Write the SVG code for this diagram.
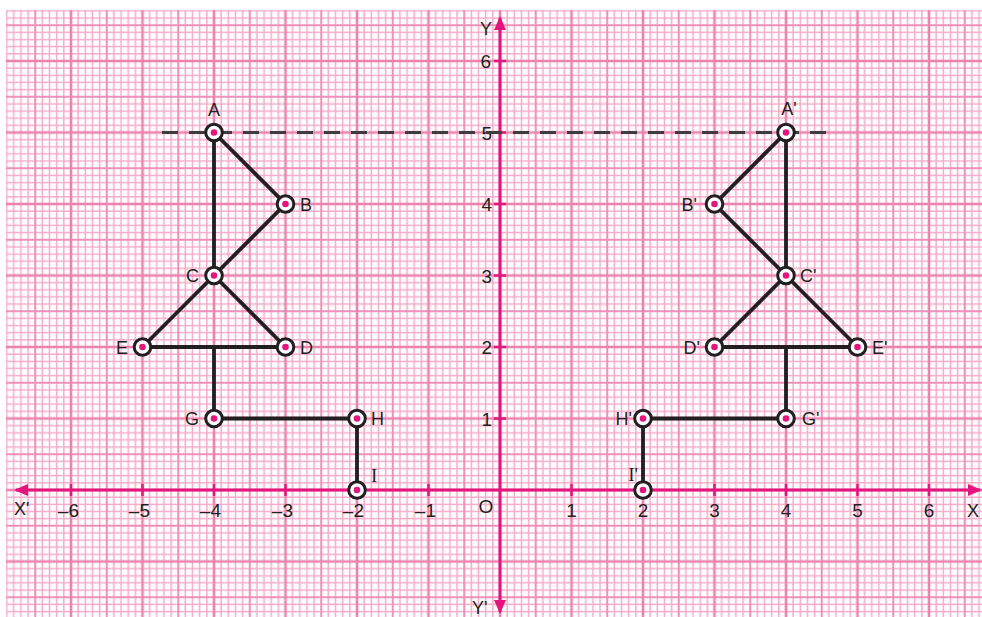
<svg xmlns="http://www.w3.org/2000/svg" width="982" height="617" viewBox="0 0 982 617">
<style>
.lbl{font-family:"Liberation Sans",Arial,sans-serif;font-size:18px;fill:#231f20}
.ser{font-family:"Liberation Serif","Times New Roman",serif;font-size:19px;fill:#231f20}
.num{font-family:"Liberation Sans",Arial,sans-serif;font-size:19px;fill:#231f20}
.seg{stroke:#231f20;stroke-width:3.8;fill:none;stroke-linecap:round}
.pt{fill:#fff;stroke:#231f20;stroke-width:3}
.dot{fill:#e4157c}
.axis{stroke:#e4157c;stroke-width:3;fill:none}
.tick{stroke:#e4157c;stroke-width:2.5}
</style>
<defs>
<pattern id="grid" patternUnits="userSpaceOnUse" x="-0.5" y="-10.5" width="71.5" height="71.5">
<path d="M7.15,0V71.5M14.3,0V71.5M21.45,0V71.5M28.6,0V71.5M42.9,0V71.5M50.05,0V71.5M57.2,0V71.5M64.35,0V71.5M0,7.15H71.5M0,14.3H71.5M0,21.45H71.5M0,28.6H71.5M0,42.9H71.5M0,50.05H71.5M0,57.2H71.5M0,64.35H71.5" stroke="#f5abc9" stroke-width="1.5" fill="none"/>
<path d="M35.75,0V71.5M0,35.75H71.5" stroke="#f08fb7" stroke-width="2" fill="none"/>
<rect x="0" y="0" width="1.3" height="71.5" fill="#ec84ae"/>
<rect x="70.2" y="0" width="1.3" height="71.5" fill="#ec84ae"/>
<rect x="0" y="0" width="71.5" height="1.3" fill="#ec84ae"/>
<rect x="0" y="70.2" width="71.5" height="1.3" fill="#ec84ae"/>
</pattern>
<marker id="arr" viewBox="0 0 14 12" refX="12" refY="6" markerWidth="14" markerHeight="12" markerUnits="userSpaceOnUse" orient="auto-start-reverse">
<path d="M0,0L14,6L0,12z" fill="#e4157c"/>
</marker>
</defs>
<rect width="982" height="617" fill="#fff"/>
<rect x="6" y="10" width="976" height="607" fill="url(#grid)"/>

<g id="axes">
<line class="axis" x1="16" y1="490" x2="980" y2="490" marker-start="url(#arr)" marker-end="url(#arr)"/>
<line class="axis" x1="500" y1="18" x2="500" y2="612" marker-start="url(#arr)" marker-end="url(#arr)"/>
<path class="tick" d="M71,484V496M142.5,484V496M214,484V496M285.5,484V496M357,484V496M428.5,484V496M571.5,484V496M643,484V496M714.5,484V496M786,484V496M857.5,484V496M929,484V496M494,418.5H506M494,347H506M494,275.5H506M494,204H506M494,132.5H506M494,61H506"/>
<text class="lbl" x="14" y="515">X'</text>
<text class="lbl" x="967" y="517">X</text>
<text class="lbl" x="480" y="35">Y</text>
<text class="lbl" x="472" y="614">Y'</text>
<text class="num" x="486" y="513" text-anchor="middle">O</text>
<g text-anchor="end">
<text class="num" x="79" y="517">–6</text>
<text class="num" x="150" y="517">–5</text>
<text class="num" x="221" y="517">–4</text>
<text class="num" x="293" y="517">–3</text>
<text class="num" x="364" y="517">–2</text>
<text class="num" x="436" y="517">–1</text>
</g>
<g text-anchor="middle">
<text class="num" x="571.5" y="517">1</text>
<text class="num" x="643" y="517">2</text>
<text class="num" x="714.5" y="517">3</text>
<text class="num" x="786" y="517">4</text>
<text class="num" x="857.5" y="517">5</text>
<text class="num" x="929" y="517">6</text>
</g>
<g text-anchor="end">
<text class="num" x="492" y="426">1</text>
<text class="num" x="492" y="354">2</text>
<text class="num" x="492" y="283">3</text>
<text class="num" x="492" y="211">4</text>
<text class="num" x="492" y="140">5</text>
<text class="num" x="491" y="68">6</text>
</g>
</g>

<g id="connectors">
<line x1="162" y1="132.5" x2="835" y2="132.5" stroke="#3d3d3d" stroke-width="3" stroke-dasharray="16 11"/>
<path class="seg" d="M214,132.5L285.5,204L214,275.5M214,132.5V275.5L142.5,347H285.5L214,275.5M214,347V418.5H357V490"/>
<path class="seg" d="M786,132.5L714.5,204L786,275.5M786,132.5V275.5L857.5,347H714.5L786,275.5M786,347V418.5H643V490"/>
</g>

<g id="A"><circle class="pt" cx="214" cy="132.5" r="8.3"/><circle class="dot" cx="214" cy="132.5" r="3.3"/><text class="lbl" x="214" y="116" text-anchor="middle">A</text></g>
<g id="B"><circle class="pt" cx="285.5" cy="204" r="8.3"/><circle class="dot" cx="285.5" cy="204" r="3.3"/><text class="lbl" x="300" y="210.5">B</text></g>
<g id="C"><circle class="pt" cx="214" cy="275.5" r="8.3"/><circle class="dot" cx="214" cy="275.5" r="3.3"/><text class="lbl" x="199" y="282" text-anchor="end">C</text></g>
<g id="D"><circle class="pt" cx="285.5" cy="347" r="8.3"/><circle class="dot" cx="285.5" cy="347" r="3.3"/><text class="lbl" x="300" y="353.5">D</text></g>
<g id="E"><circle class="pt" cx="142.5" cy="347" r="8.3"/><circle class="dot" cx="142.5" cy="347" r="3.3"/><text class="lbl" x="128" y="353.5" text-anchor="end">E</text></g>
<g id="G"><circle class="pt" cx="214" cy="418.5" r="8.3"/><circle class="dot" cx="214" cy="418.5" r="3.3"/><text class="lbl" x="199" y="425" text-anchor="end">G</text></g>
<g id="H"><circle class="pt" cx="357" cy="418.5" r="8.3"/><circle class="dot" cx="357" cy="418.5" r="3.3"/><text class="lbl" x="371" y="425">H</text></g>
<g id="I"><circle class="pt" cx="357" cy="490" r="8.3"/><circle class="dot" cx="357" cy="490" r="3.3"/><text class="ser" x="371" y="482">I</text></g>

<g id="A1"><circle class="pt" cx="786" cy="132.5" r="8.3"/><circle class="dot" cx="786" cy="132.5" r="3.3"/><text class="lbl" x="789" y="115" text-anchor="middle">A'</text></g>
<g id="B1"><circle class="pt" cx="714.5" cy="204" r="8.3"/><circle class="dot" cx="714.5" cy="204" r="3.3"/><text class="lbl" x="697" y="210.5" text-anchor="end">B'</text></g>
<g id="C1"><circle class="pt" cx="786" cy="275.5" r="8.3"/><circle class="dot" cx="786" cy="275.5" r="3.3"/><text class="lbl" x="800" y="282">C'</text></g>
<g id="D1"><circle class="pt" cx="714.5" cy="347" r="8.3"/><circle class="dot" cx="714.5" cy="347" r="3.3"/><text class="lbl" x="700" y="353.5" text-anchor="end">D'</text></g>
<g id="E1"><circle class="pt" cx="857.5" cy="347" r="8.3"/><circle class="dot" cx="857.5" cy="347" r="3.3"/><text class="lbl" x="872" y="353.5">E'</text></g>
<g id="G1"><circle class="pt" cx="786" cy="418.5" r="8.3"/><circle class="dot" cx="786" cy="418.5" r="3.3"/><text class="lbl" x="802" y="425">G'</text></g>
<g id="H1"><circle class="pt" cx="643" cy="418.5" r="8.3"/><circle class="dot" cx="643" cy="418.5" r="3.3"/><text class="lbl" x="632" y="425" text-anchor="end">H'</text></g>
<g id="I1"><circle class="pt" cx="643" cy="490" r="8.3"/><circle class="dot" cx="643" cy="490" r="3.3"/><text class="ser" x="638" y="481" text-anchor="end">I'</text></g>
</svg>
